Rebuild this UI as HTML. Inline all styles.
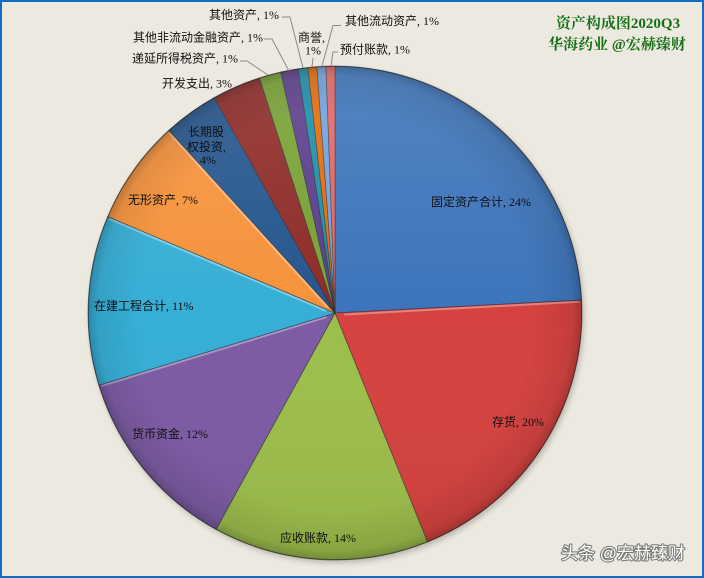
<!DOCTYPE html>
<html>
<head>
<meta charset="utf-8">
<style>
html,body{margin:0;padding:0;}
body{width:704px;height:578px;overflow:hidden;background:#ECE9E0;}
.frame{position:absolute;left:0;top:0;width:704px;height:578px;box-sizing:border-box;border:2px solid #0C6EC4;}
svg{position:absolute;left:0;top:0;}
.lb{font-family:"Liberation Serif","Noto Sans CJK SC",sans-serif;font-size:12px;fill:#111;}
.ttl{font-family:"Liberation Serif","Noto Serif CJK SC",serif;font-size:15px;font-weight:bold;fill:#157015;}
.wm{font-family:"Liberation Sans","Noto Sans CJK SC",sans-serif;font-size:17px;}
</style>
</head>
<body>
<svg width="704" height="578" viewBox="0 0 704 578" xmlns="http://www.w3.org/2000/svg">
<defs>
  <radialGradient id="rim" cx="335" cy="313" r="247" gradientUnits="userSpaceOnUse">
    <stop offset="0.8" stop-color="#000" stop-opacity="0"/>
    <stop offset="0.96" stop-color="#000" stop-opacity="0.08"/>
    <stop offset="1" stop-color="#000" stop-opacity="0.22"/>
  </radialGradient>
  <linearGradient id="vert" x1="0" y1="66" x2="0" y2="560" gradientUnits="userSpaceOnUse">
    <stop offset="0" stop-color="#fff" stop-opacity="0.12"/>
    <stop offset="0.5" stop-color="#fff" stop-opacity="0"/>
    <stop offset="1" stop-color="#000" stop-opacity="0.06"/>
  </linearGradient>
  <filter id="sh" x="-10%" y="-10%" width="120%" height="120%">
    <feGaussianBlur stdDeviation="3"/>
  </filter>
</defs>

<!-- shadow -->
<circle cx="337" cy="316" r="247" fill="#000" opacity="0.22" filter="url(#sh)"/>

<g stroke="rgba(40,40,40,0.55)" stroke-width="0.8" stroke-linejoin="round">
  <path d="M335,313 L335,66 A247,247 0 0 1 581.66,300.07 Z" fill="#3D74BA"/>
  <path d="M335,313 L581.66,300.07 A247,247 0 0 1 427.53,542.01 Z" fill="#D5423F"/>
  <path d="M335,313 L427.53,542.01 A247,247 0 0 1 216.01,529.45 Z" fill="#9CBE4B"/>
  <path d="M335,313 L216.01,529.45 A247,247 0 0 1 98.79,385.22 Z" fill="#7C5BA4"/>
  <path d="M335,313 L98.79,385.22 A247,247 0 0 1 107.64,216.49 Z" fill="#36AED6"/>
  <path d="M335,313 L107.64,216.49 A247,247 0 0 1 168.77,130.31 Z" fill="#F6923B"/>
  <path d="M335,313 L168.77,130.31 A247,247 0 0 1 214.12,97.60 Z" fill="#25568E"/>
  <path d="M335,313 L214.12,97.60 A247,247 0 0 1 259.49,77.82 Z" fill="#8E2B28"/>
  <path d="M335,313 L259.49,77.82 A247,247 0 0 1 280.70,72.04 Z" fill="#77A134"/>
  <path d="M335,313 L280.70,72.04 A247,247 0 0 1 298.06,68.78 Z" fill="#5B3E8B"/>
  <path d="M335,313 L298.06,68.78 A247,247 0 0 1 307.90,67.49 Z" fill="#1E8EA8"/>
  <path d="M335,313 L307.90,67.49 A247,247 0 0 1 316.91,66.66 Z" fill="#E46C0B"/>
  <path d="M335,313 L316.91,66.66 A247,247 0 0 1 325.95,66.17 Z" fill="#6FA2DE"/>
  <path d="M335,313 L325.95,66.17 A247,247 0 0 1 335,66 Z" fill="#E06868"/>
</g>

<!-- bevel highlights -->
<g stroke="#fff" stroke-opacity="0.35" stroke-width="2" stroke-linecap="round">
  <line x1="345" y1="314.5" x2="579" y2="301.7"/>
  <line x1="325.8" y1="317.3" x2="102.1" y2="385.7"/>
  <line x1="325.2" y1="310.5" x2="109.8" y2="219.1"/>
  <line x1="327.2" y1="306.6" x2="169.7" y2="133.5"/>
</g>

<circle cx="335" cy="313" r="247" fill="url(#vert)"/>
<circle cx="335" cy="313" r="247" fill="url(#rim)"/>
<circle cx="335" cy="313" r="246.6" fill="none" stroke="rgba(30,30,30,0.45)" stroke-width="1"/>

<!-- leader lines -->
<g stroke="#8a8a8a" stroke-width="1" fill="none">
  <polyline points="282,17 290,17 303,68"/>
  <polyline points="264,39 272,39 289,71"/>
  <polyline points="240,61 247,61 268,75"/>
  <polyline points="313,58 312,67"/>
  <polyline points="341,25.5 333,25.5 322,66"/>
  <polyline points="338,52 333,52 331,66"/>
</g>

<!-- labels -->
<text class="lb" x="431" y="206">固定资产合计, 24%</text>
<text class="lb" x="492" y="426">存货, 20%</text>
<text class="lb" x="280" y="542">应收账款, 14%</text>
<text class="lb" x="132" y="438">货币资金, 12%</text>
<text class="lb" x="94" y="310">在建工程合计, 11%</text>
<text class="lb" x="128" y="204">无形资产, 7%</text>
<text class="lb" x="188" y="136">长期股</text>
<text class="lb" x="187" y="151">权投资,</text>
<text class="lb" x="200" y="164">4%</text>
<text class="lb" x="162" y="87.5">开发支出, 3%</text>
<text class="lb" x="132" y="62.5">递延所得税资产, 1%</text>
<text class="lb" x="133" y="41.5">其他非流动金融资产, 1%</text>
<text class="lb" x="209" y="19">其他资产, 1%</text>
<text class="lb" x="298" y="41.5">商誉,</text>
<text class="lb" x="305" y="54.5">1%</text>
<text class="lb" x="345" y="25">其他流动资产, 1%</text>
<text class="lb" x="340" y="53.5">预付账款, 1%</text>

<!-- title -->
<text class="ttl" x="618" y="28" text-anchor="middle">资产构成图2020Q3</text>
<text class="ttl" x="617" y="49" text-anchor="middle">华海药业 @宏赫臻财</text>

<!-- watermark -->
<text class="wm" x="561" y="559" fill="none" stroke="#555" stroke-opacity="0.75" stroke-width="2.2" stroke-linejoin="round">头条 @宏赫臻财</text>
<text class="wm" x="561" y="559" fill="#fff">头条 @宏赫臻财</text>
</svg>
<div class="frame"></div>
</body>
</html>
